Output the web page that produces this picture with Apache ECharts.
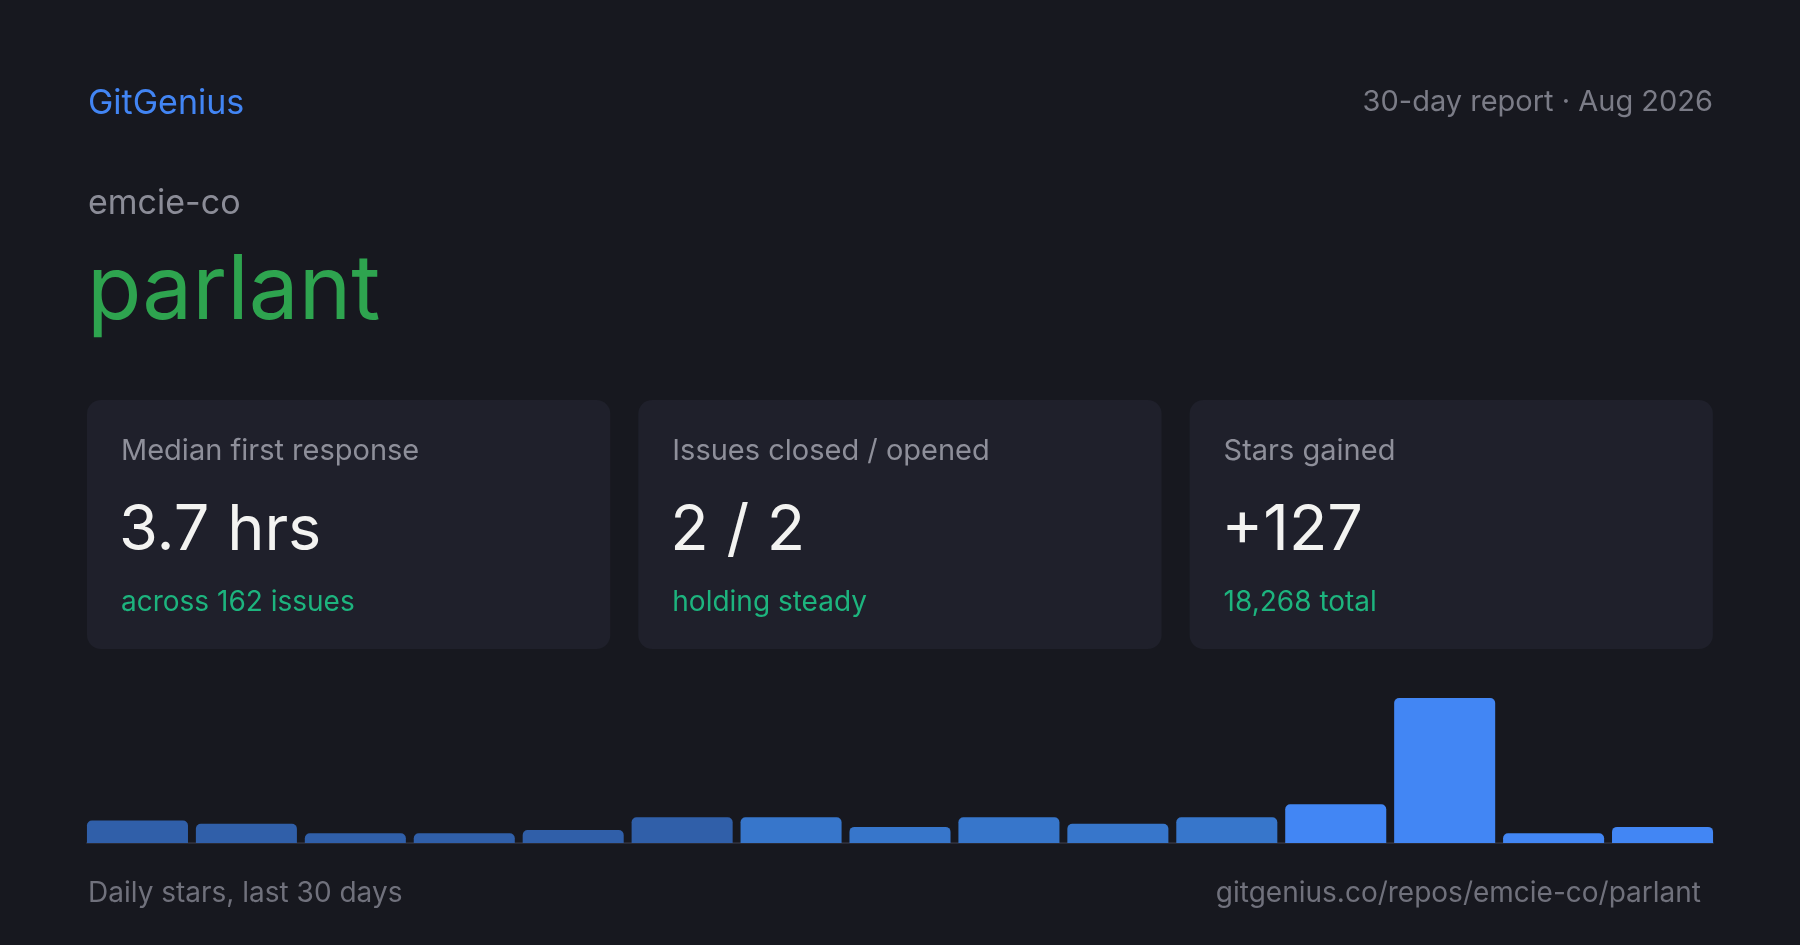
<!DOCTYPE html>
<html>
<head>
<meta charset="utf-8">
<script src="https://cdn.jsdelivr.net/npm/echarts@6/dist/echarts.min.js"></script>
<style>
  html, body { margin: 0; padding: 0; background: #17181f; }
  #chart { width: 1800px; height: 945px; }
</style>
</head>
<body>
<div id="chart"></div>
<script>
// ---- data ----
const brand = 'GitGenius';
const reportLabel = '30-day report · Aug 2026';
const owner = 'emcie-co';
const repo = 'parlant';
const cardLabels = ['Median first response', 'Issues closed / opened', 'Stars gained'];
const cardValues = ['3.7 hrs', '2 / 2', '+127'];
const cardNotes = ['across 162 issues', 'holding steady', '18,268 total'];
const categories = ['Day 1–2', 'Day 3–4', 'Day 5–6', 'Day 7–8', 'Day 9–10', 'Day 11–12', 'Day 13–14',
  'Day 15–16', 'Day 17–18', 'Day 19–20', 'Day 21–22', 'Day 23–24', 'Day 25–26', 'Day 27–28', 'Day 29–30'];
const stars = [7, 6, 3, 3, 4, 8, 8, 5, 8, 6, 8, 12, 45, 3, 5];
const footerLeft = 'Daily stars, last 30 days';
const footerRight = 'gitgenius.co/repos/emcie-co/parlant';

// ---- chart ----
const FONT = 'Inter, "Noto Sans", sans-serif';
const chart = echarts.init(document.getElementById('chart'), null, { renderer: 'canvas' });

const PAD = 87;
const CARD_W = 523.3, CARD_GAP = 28, CARD_Y = 400, CARD_H = 249;
const graphics = [];

function txt(x, y, text, size, color, align, weight) {
  graphics.push({
    type: 'text', x: x, y: y, silent: true,
    style: {
      text: text, fill: color, textAlign: align || 'left', textVerticalAlign: 'middle',
      fontSize: size, fontFamily: FONT, fontWeight: weight || 400
    }
  });
}

txt(PAD + 1, 103.5, brand, 34, '#4285f4');
txt(1713, 102, reportLabel, 29, '#7b7c87', 'right');
txt(PAD + 1, 204, owner, 34, '#8b8c97');
txt(PAD, 292, repo, 89, '#2ea44f');

for (let i = 0; i < 3; i++) {
  const cx = PAD + i * (CARD_W + CARD_GAP);
  graphics.push({
    type: 'rect', silent: true, z: -1,
    shape: { x: cx, y: CARD_Y, width: CARD_W, height: CARD_H, r: 14 },
    style: { fill: '#1f202b' }
  });
  txt(cx + 34, 451, cardLabels[i], 29, '#8e8f9a');
  txt(cx + 32, 531, cardValues[i], 63, '#f3f3f1');
  txt(cx + 34, 603, cardNotes[i], 28, '#1db47e');
}

txt(PAD + 1, 894, footerLeft, 28, '#70717c');
txt(1701, 894, footerRight, 28, '#70717c', 'right');

const tierColor = (i) => i < 6 ? '#305fa9' : (i < 11 ? '#3776cb' : '#4286f4');

chart.setOption({
  backgroundColor: '#17181f',
  animation: false,
  grid: [
    { left: 83, right: 83, top: 698, bottom: 102, containLabel: false },
    { left: PAD, right: 1800 - 1713, top: 698, bottom: 102, containLabel: false }
  ],
  xAxis: [{
    type: 'category', data: categories, gridIndex: 0,
    axisLine: { show: false },
    axisTick: { show: false }, axisLabel: { show: false }, splitLine: { show: false }
  }, {
    type: 'category', data: categories, gridIndex: 1, z: 0,
    axisLine: { show: true, lineStyle: { color: '#2a2b36', width: 2 } },
    axisTick: { show: false }, axisLabel: { show: false }, splitLine: { show: false }
  }],
  yAxis: [
    { type: 'value', min: 0, max: 45, show: false, gridIndex: 0, splitLine: { show: false } },
    { type: 'value', min: 0, max: 45, show: false, gridIndex: 1, splitLine: { show: false } }
  ],
  series: [{
    type: 'bar', data: stars, barCategoryGap: '7.25%', xAxisIndex: 0, yAxisIndex: 0, z: 3,
    itemStyle: {
      borderRadius: [5, 5, 0, 0],
      color: (p) => tierColor(p.dataIndex)
    }
  }],
  graphic: graphics
});
</script>
</body>
</html>
